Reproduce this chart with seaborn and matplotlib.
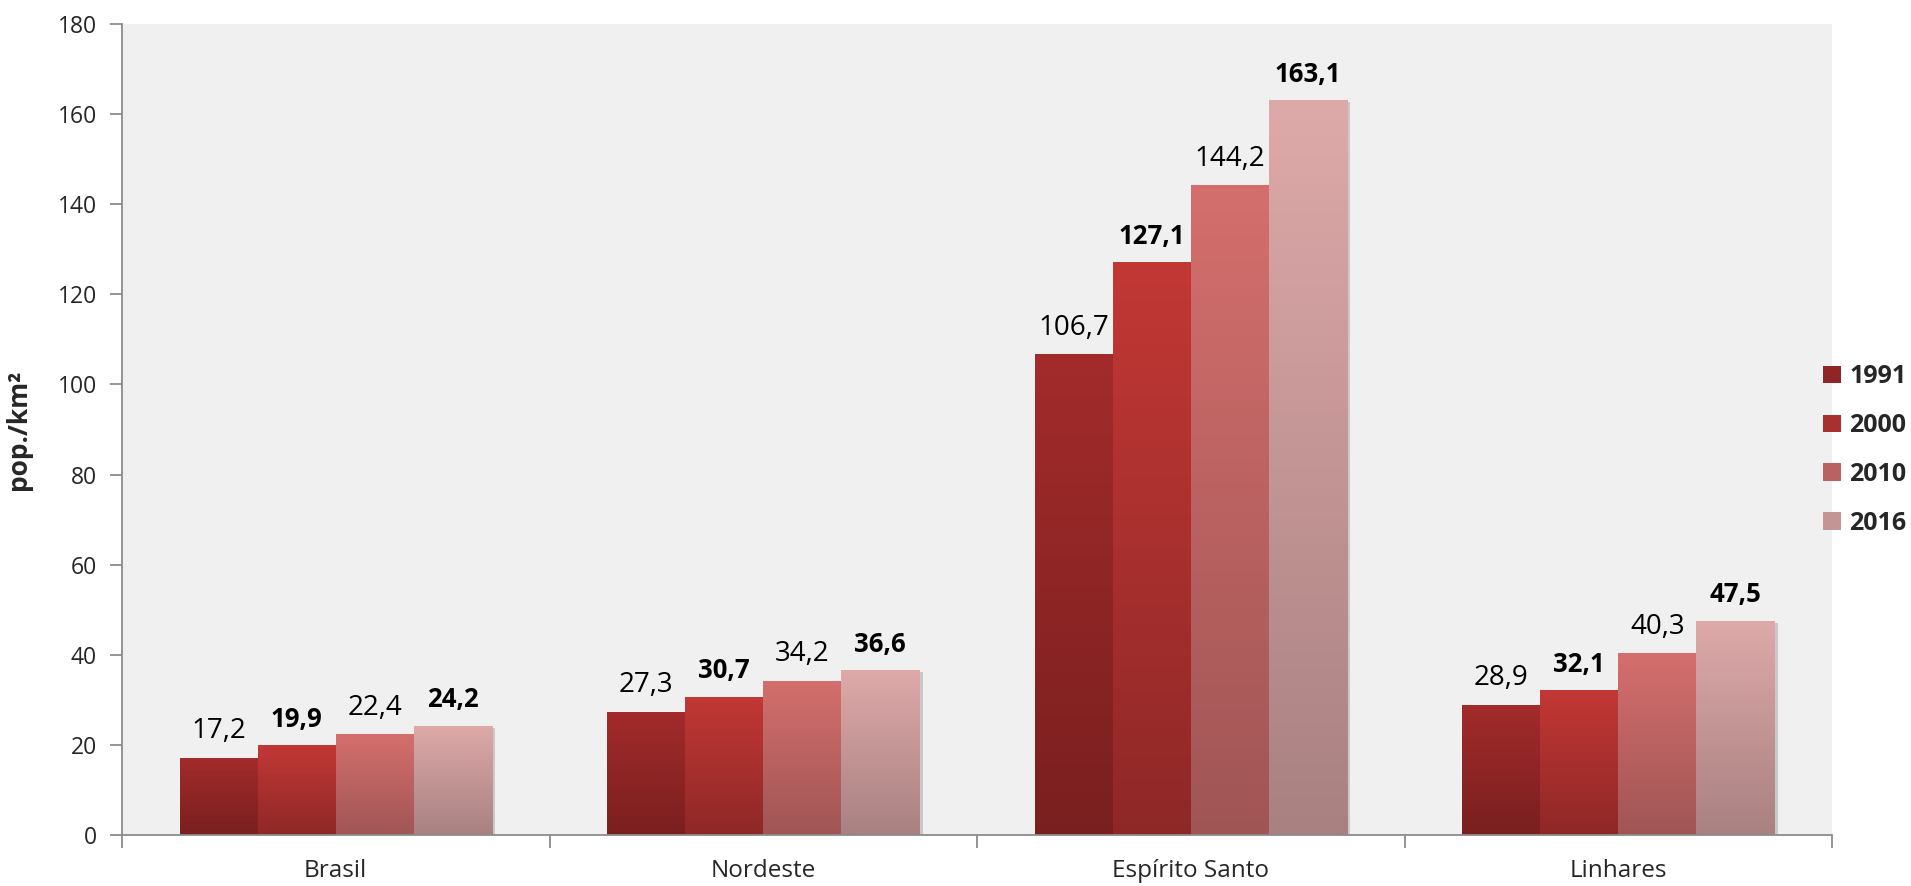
import numpy as np
import pandas as pd
import matplotlib
matplotlib.use("Agg")
import matplotlib.pyplot as plt
import matplotlib.colors as mcolors
from matplotlib.patches import Patch
from matplotlib import patheffects as pe
import seaborn as sns

# ---- data ----
regions = ["Brasil", "Nordeste", "Espírito Santo", "Linhares"]
years = ["1991", "2000", "2010", "2016"]
d1991 = [17.2, 27.3, 106.7, 28.9]
d2000 = [19.9, 30.7, 127.1, 32.1]
d2010 = [22.4, 34.2, 144.2, 40.3]
d2016 = [24.2, 36.6, 163.1, 47.5]
yticks = [0, 20, 40, 60, 80, 100, 120, 140, 160, 180]
ylabel = "pop./km²"

top_colors = ["#A32B2B", "#C23835", "#D46F6D", "#DEA9A9"]
bottom_colors = ["#7A1F1F", "#8E2827", "#A05555", "#A98181"]
bold_years = {"2000", "2016"}

series = {"1991": d1991, "2000": d2000, "2010": d2010, "2016": d2016}
df = pd.DataFrame([
    {"region": r, "year": y, "value": v}
    for y in years for r, v in zip(regions, series[y])
])

sns.set_theme(style="white")
plt.rcParams["font.family"] = ["Open Sans", "DejaVu Sans"]

W, H = 1911, 886
fig = plt.figure(figsize=(W / 100, H / 100), dpi=100)
ax = fig.add_axes([122 / W, 1 - 835 / H, (1832 - 122) / W, (835 - 24) / H])
ax.set_facecolor("#F0F0F0")

mid_colors = [
    tuple((np.array(mcolors.to_rgb(t)) + np.array(mcolors.to_rgb(b))) / 2)
    for t, b in zip(top_colors, bottom_colors)
]
sns.barplot(data=df, x="region", y="value", hue="year", order=regions,
            hue_order=years, palette=mid_colors, width=0.73, gap=0,
            saturation=1, legend=False, ax=ax, linewidth=0)

# gradient fill + shadow
for cont, t, b in zip(ax.containers, top_colors, bottom_colors):
    ct = np.array(mcolors.to_rgb(t))
    cb = np.array(mcolors.to_rgb(b))
    grad = np.linspace(0, 1, 256)[:, None, None]
    img = ct * (1 - grad) + cb * grad
    for p in cont.patches:
        p.set_path_effects([pe.SimplePatchShadow(offset=(2.5, -1.5), alpha=0.25,
                                                 shadow_rgbFace="#555555"),
                            pe.Normal()])
        x0, y0 = p.get_x(), p.get_y()
        w, h = p.get_width(), p.get_height()
        im = ax.imshow(img, extent=(x0, x0 + w, y0, y0 + h), aspect="auto",
                       zorder=p.get_zorder() + 0.1, interpolation="bilinear")
        im.set_clip_path(p)

# labels
for cont, y in zip(ax.containers, years):
    labs = [f"{v:.1f}".replace(".", ",") for v in series[y]]
    isb = y in bold_years
    ax.bar_label(cont, labels=labs, padding=9, fontsize=18.5 if isb else 20,
                 fontweight="bold" if isb else "normal", color="black")

ax.set_xlim(-0.5, len(regions) - 0.5)
ax.set_ylim(0, 180)
ax.set_yticks(yticks)
ax.set_yticklabels([str(v) for v in yticks])
ax.set_xlabel("")
ax.set_ylabel(ylabel, fontsize=19, fontweight="bold")
ax.yaxis.set_label_coords(-90 / (1832 - 122), 0.5)

for s in ["top", "right"]:
    ax.spines[s].set_visible(False)
for s in ["left", "bottom"]:
    ax.spines[s].set_color("#8C8C8C")
    ax.spines[s].set_linewidth(1.3)

ax.tick_params(axis="y", which="major", length=9, width=1.3, color="#8C8C8C",
               labelsize=16.5, pad=9, left=True, direction="out")
ax.tick_params(axis="x", which="major", length=0, labelsize=17.5, pad=17)
ax.set_xticks(np.arange(-0.5, len(regions), 1.0), minor=True)
ax.tick_params(axis="x", which="minor", length=9, width=1.3, color="#8C8C8C",
               bottom=True, direction="out")

handles = [Patch(facecolor=c, edgecolor="none") for c in mid_colors]
leg = fig.legend(handles, years, loc="center left",
                 bbox_to_anchor=(1823 / W, 1 - 450 / H), frameon=False,
                 borderpad=0, borderaxespad=0, handlelength=0.7,
                 handleheight=0.7, handletextpad=0.35, labelspacing=0.95,
                 prop={"size": 18, "weight": "bold"})

fig.savefig("out.png", dpi=100, facecolor="white")
